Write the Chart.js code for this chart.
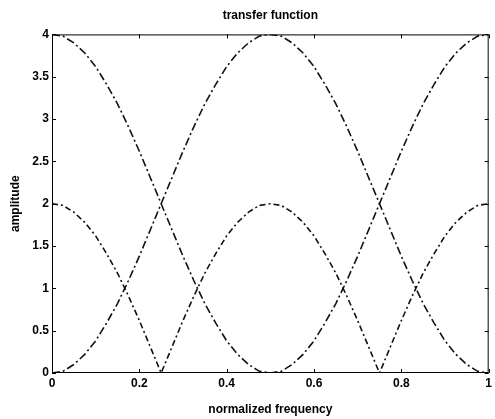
<!DOCTYPE html>
<html>
<head>
<meta charset="utf-8">
<title>transfer function</title>
<script src="https://cdn.jsdelivr.net/npm/chart.js@4/dist/chart.umd.min.js"></script>
<style>
  html, body { margin: 0; padding: 0; background: #fff; }
  #wrap { width: 495px; height: 419px; }
</style>
</head>
<body>
<div id="wrap"><canvas id="chart" width="495" height="419"></canvas></div>
<script>
// normalized frequency, step 0.025
const freq = [
  0, 0.025, 0.05, 0.075, 0.1, 0.125, 0.15, 0.175, 0.2, 0.225,
  0.25, 0.275, 0.3, 0.325, 0.35, 0.375, 0.4, 0.425, 0.45, 0.475,
  0.5, 0.525, 0.55, 0.575, 0.6, 0.625, 0.65, 0.675, 0.7, 0.725,
  0.75, 0.775, 0.8, 0.825, 0.85, 0.875, 0.9, 0.925, 0.95, 0.975, 1
];

// curve starting at 4, dipping to 0 at 0.5
const lowpass = [
  4, 3.98, 3.9, 3.78, 3.62, 3.41, 3.18, 2.91, 2.62, 2.31,
  2, 1.69, 1.38, 1.09, 0.82, 0.59, 0.38, 0.22, 0.1, 0.02,
  0, 0.02, 0.1, 0.22, 0.38, 0.59, 0.82, 1.09, 1.38, 1.69,
  2, 2.31, 2.62, 2.91, 3.18, 3.41, 3.62, 3.78, 3.9, 3.98, 4
];

// curve starting at 0, peaking at 4 at 0.5
const highpass = [
  0, 0.02, 0.1, 0.22, 0.38, 0.59, 0.82, 1.09, 1.38, 1.69,
  2, 2.31, 2.62, 2.91, 3.18, 3.41, 3.62, 3.78, 3.9, 3.98,
  4, 3.98, 3.9, 3.78, 3.62, 3.41, 3.18, 2.91, 2.62, 2.31,
  2, 1.69, 1.38, 1.09, 0.82, 0.59, 0.38, 0.22, 0.1, 0.02, 0
];

// curve starting at 2, notches at 0.25 and 0.75
const notched = [
  2, 1.98, 1.9, 1.78, 1.62, 1.41, 1.18, 0.91, 0.62, 0.31,
  0, 0.31, 0.62, 0.91, 1.18, 1.41, 1.62, 1.78, 1.9, 1.98,
  2, 1.98, 1.9, 1.78, 1.62, 1.41, 1.18, 0.91, 0.62, 0.31,
  0, 0.31, 0.62, 0.91, 1.18, 1.41, 1.62, 1.78, 1.9, 1.98, 2
];

const xTicks = [0, 0.2, 0.4, 0.6, 0.8, 1];
const yTicks = [0, 0.5, 1, 1.5, 2, 2.5, 3, 3.5, 4];

const FONT = '"Liberation Sans", Arial, sans-serif';

function pts(ys) {
  return freq.map((f, i) => ({ x: f, y: ys[i] }));
}

function line(ys, dash) {
  return {
    data: pts(ys),
    borderColor: "#111",
    borderWidth: 1.6,
    borderDash: dash,
    pointRadius: 0,
    fill: false,
    tension: 0,
  };
}

// box around the plot with MATLAB-style inward ticks on all sides
const frameTicks = {
  id: "frameTicks",
  afterDraw(chart) {
    const { ctx, chartArea: a, scales } = chart;
    const len = 4;
    ctx.save();
    ctx.strokeStyle = "#000";
    ctx.lineWidth = 1;
    ctx.strokeRect(a.left + 0.5, a.top + 0.5, a.right - a.left - 1, a.bottom - a.top - 1);
    ctx.beginPath();
    xTicks.forEach((v) => {
      const px = Math.round(scales.x.getPixelForValue(v)) + 0.5;
      ctx.moveTo(px, a.bottom);
      ctx.lineTo(px, a.bottom - len);
      ctx.moveTo(px, a.top);
      ctx.lineTo(px, a.top + len);
    });
    yTicks.forEach((v) => {
      const py = Math.round(scales.y.getPixelForValue(v)) + 0.5;
      ctx.moveTo(a.left, py);
      ctx.lineTo(a.left + len, py);
      ctx.moveTo(a.right, py);
      ctx.lineTo(a.right - len, py);
    });
    ctx.stroke();
    ctx.restore();
  },
};

const tickFont = { family: FONT, size: 12, weight: "bold" };

new Chart(document.getElementById("chart"), {
  type: "line",
  data: {
    datasets: [
      line(lowpass, [8, 3, 2, 3]),
      line(highpass, [8, 3, 2, 3]),
      line(notched, [6, 3, 2, 3]),
    ],
  },
  options: {
    responsive: false,
    animation: false,
    layout: { padding: { left: 0, right: 4, top: 0, bottom: 0 } },
    plugins: {
      legend: { display: false },
      tooltip: { enabled: false },
      title: {
        display: true,
        text: "transfer function",
        fullSize: false,
        color: "#000",
        font: { family: FONT, size: 12, weight: "bold" },
        padding: { top: 8, bottom: 12 },
      },
    },
    scales: {
      x: {
        type: "linear",
        min: 0,
        max: 1,
        afterBuildTicks: (s) => { s.ticks = xTicks.map((v) => ({ value: v })); },
        afterFit: (s) => { s.height = 46; },
        grid: { display: false, drawTicks: false },
        border: { display: false },
        ticks: {
          color: "#000",
          padding: 3,
          font: tickFont,
          callback: (v) => String(v),
        },
        title: {
          display: true,
          text: "normalized frequency",
          color: "#000",
          font: { family: FONT, size: 12, weight: "bold" },
          padding: { top: 0, bottom: 2 },
        },
      },
      y: {
        type: "linear",
        min: 0,
        max: 4,
        afterBuildTicks: (s) => { s.ticks = yTicks.map((v) => ({ value: v })); },
        afterFit: (s) => { s.width = 52; },
        grid: { display: false, drawTicks: false },
        border: { display: false },
        ticks: {
          color: "#000",
          padding: 3,
          font: tickFont,
          callback: (v) => String(v),
        },
        title: {
          display: true,
          text: "amplitude",
          color: "#000",
          font: { family: FONT, size: 12, weight: "bold" },
          padding: { top: 8, bottom: 4 },
        },
      },
    },
  },
  plugins: [frameTicks],
});
</script>
</body>
</html>
